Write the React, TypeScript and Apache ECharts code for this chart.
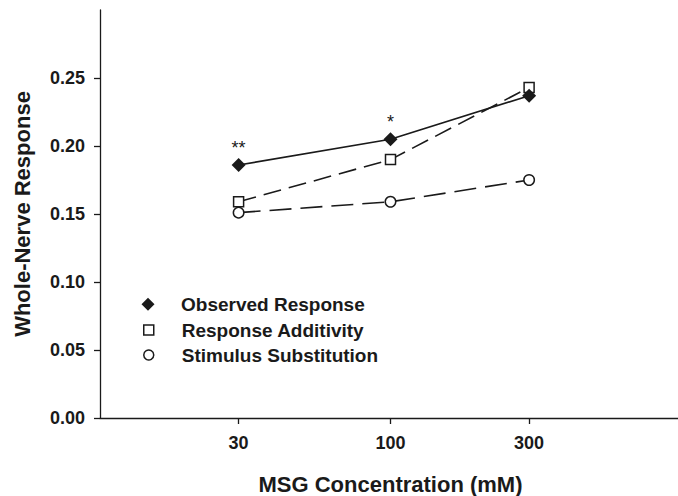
import React, { useEffect, useRef } from "react";
import * as echarts from "echarts";

const concentrations = [30, 100, 300];
const observedResponse = [0.186, 0.205, 0.237];
const responseAdditivity = [0.159, 0.19, 0.243];
const stimulusSubstitution = [0.151, 0.159, 0.175];
const significance = ["**", "*", ""];
const xTickValues = [30, 100, 300];
const yTickValues = [0, 0.05, 0.1, 0.15, 0.2, 0.25];

const FONT = "'Liberation Sans', Arial, Helvetica, sans-serif";
const INK = "#1a1a1a";

export default function App() {
  const ref = useRef<HTMLDivElement>(null);

  useEffect(() => {
    if (!ref.current) return;
    const chart = echarts.init(ref.current, undefined, { renderer: "svg" });

    const legendText = (padLeft: number) => ({
      fontFamily: FONT,
      fontSize: 19,
      fontWeight: "bold",
      color: INK,
      padding: [0, 0, 0, padLeft],
    });

    chart.setOption({
      animation: false,
      backgroundColor: "#ffffff",
      textStyle: { fontFamily: FONT },
      grid: {
        left: 100,
        top: 10,
        width: 581,
        bottom: 78,
        containLabel: false,
        outerBoundsMode: "none",
      },
      legend: [
        {
          orient: "vertical",
          left: 141.5,
          top: 294.8,
          padding: 0,
          itemWidth: 13,
          itemHeight: 13,
          selectedMode: false,
          textStyle: legendText(21.5),
          data: [
            {
              name: "Observed Response",
              icon: "diamond",
              itemStyle: { color: INK, borderWidth: 0 },
            },
          ],
        },
        {
          orient: "vertical",
          left: 143,
          top: 320.5,
          padding: 0,
          itemWidth: 10,
          itemHeight: 10,
          selectedMode: false,
          textStyle: legendText(23),
          data: [
            {
              name: "Response Additivity",
              icon: "rect",
              itemStyle: { color: "#fff", borderColor: INK, borderWidth: 1.5 },
            },
          ],
        },
        {
          orient: "vertical",
          left: 143,
          top: 345.5,
          padding: 0,
          itemWidth: 10,
          itemHeight: 10,
          selectedMode: false,
          textStyle: legendText(23),
          data: [
            {
              name: "Stimulus Substitution",
              icon: "circle",
              itemStyle: { color: "#fff", borderColor: INK, borderWidth: 1.5 },
            },
          ],
        },
      ],
      xAxis: {
        type: "log",
        logBase: 10,
        min: 10,
        max: 1000,
        name: "MSG Concentration (mM)",
        nameLocation: "middle",
        nameGap: 55,
        nameTextStyle: { fontFamily: FONT, fontSize: 22, fontWeight: "bold", color: INK },
        axisLine: { show: true, lineStyle: { color: INK, width: 1.3 } },
        axisTick: { show: true, length: 6, lineStyle: { color: INK, width: 1.3 }, customValues: xTickValues },
        axisLabel: {
          show: true,
          margin: 16,
          fontFamily: FONT,
          fontSize: 18,
          fontWeight: "bold",
          color: INK,
          customValues: xTickValues,
          formatter: (v: number) => String(Math.round(v)),
        },
        splitLine: { show: false },
        minorTick: { show: false },
      },
      yAxis: {
        type: "value",
        min: 0,
        max: 0.3,
        interval: 0.05,
        name: "Whole-Nerve Response",
        nameLocation: "middle",
        nameGap: 67,
        nameTextStyle: { fontFamily: FONT, fontSize: 22, fontWeight: "bold", color: INK },
        axisLine: { show: true, lineStyle: { color: INK, width: 1.3 } },
        axisTick: { show: true, length: 6, lineStyle: { color: INK, width: 1.3 }, customValues: yTickValues },
        axisLabel: {
          show: true,
          margin: 15,
          fontFamily: FONT,
          fontSize: 18,
          fontWeight: "bold",
          color: INK,
          customValues: yTickValues,
          formatter: (v: number) => v.toFixed(2),
        },
        splitLine: { show: false },
      },
      series: [
        {
          name: "Observed Response",
          type: "line",
          data: concentrations.map((c, i) => ({
            value: [c, observedResponse[i]],
            label: {
              show: significance[i] !== "",
              formatter: significance[i],
              position: "top",
              distance: 1,
              fontFamily: FONT,
              fontSize: 18,
              fontWeight: "normal",
              color: INK,
            },
          })),
          symbol: "diamond",
          symbolSize: 14,
          itemStyle: { color: INK, borderWidth: 0 },
          lineStyle: { color: INK, width: 1.6, type: "solid" },
          z: 5,
        },
        {
          name: "Response Additivity",
          type: "line",
          data: concentrations.map((c, i) => [c, responseAdditivity[i]]),
          symbol: "rect",
          symbolSize: 10,
          showAllSymbol: true,
          itemStyle: { color: "#fff", borderColor: INK, borderWidth: 1.5 },
          lineStyle: { color: INK, width: 1.6, type: [18, 8] },
          z: 4,
        },
        {
          name: "Stimulus Substitution",
          type: "line",
          data: concentrations.map((c, i) => [c, stimulusSubstitution[i]]),
          symbol: "circle",
          symbolSize: 10.5,
          itemStyle: { color: "#fff", borderColor: INK, borderWidth: 1.5 },
          lineStyle: { color: INK, width: 1.6, type: [22, 9] },
          z: 3,
        },
      ],
    });

    return () => chart.dispose();
  }, []);

  return (
    <div
      ref={ref}
      style={{ position: "fixed", left: 0, top: 0, width: 678, height: 496, background: "#fff" }}
    />
  );
}
